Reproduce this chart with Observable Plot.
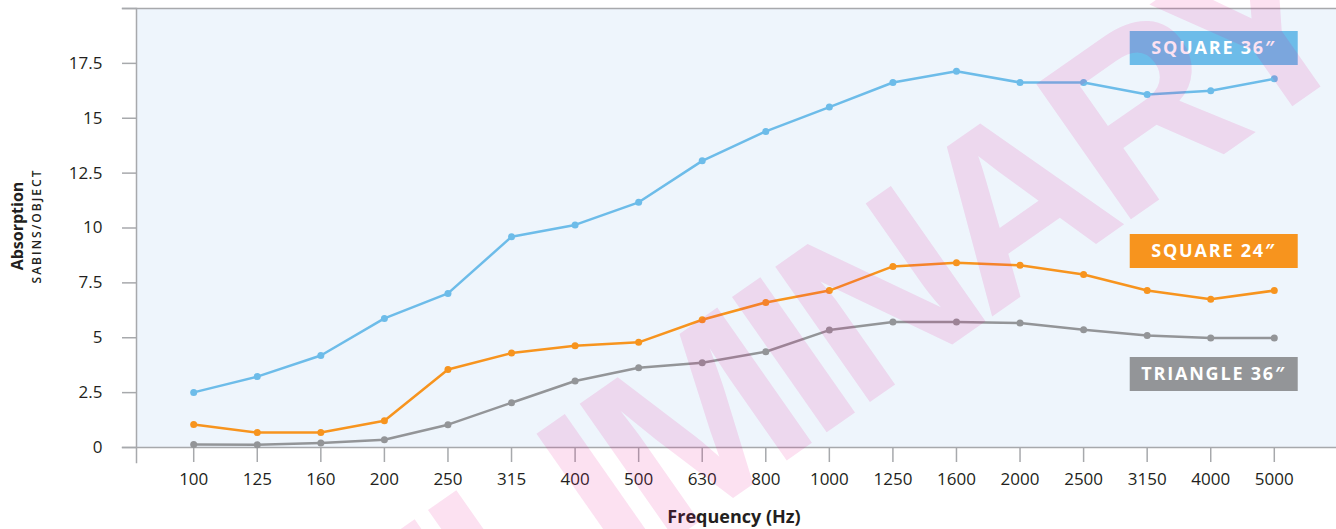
<!DOCTYPE html>
<html>
<head>
<meta charset="utf-8">
<script src="https://cdn.jsdelivr.net/npm/d3@7"></script>
<script src="https://cdn.jsdelivr.net/npm/@observablehq/plot@0.6"></script>
<style>
  body { margin: 0; background: #ffffff; }
  .legend-text text { letter-spacing: 1.8px; }
  .sub-label text { letter-spacing: 2px; }
  .watermark text { letter-spacing: -14px; }
</style>
</head>
<body>
<div id="chart"></div>
<script>
const frequencies = ["100","125","160","200","250","315","400","500","630","800","1000","1250","1600","2000","2500","3150","4000","5000"];
const square36   = [2.51,3.23,4.19,5.88,7.02,9.60,10.14,11.17,13.06,14.40,15.51,16.63,17.14,16.63,16.63,16.08,16.25,16.80];
const square24   = [1.05,0.68,0.68,1.22,3.55,4.30,4.64,4.79,5.82,6.61,7.15,8.25,8.42,8.30,7.88,7.15,6.75,7.15];
const triangle36 = [0.14,0.12,0.21,0.35,1.04,2.04,3.03,3.63,3.86,4.36,5.35,5.72,5.72,5.67,5.36,5.10,4.99,4.99];
const seriesNames  = ["SQUARE 36″","SQUARE 24″","TRIANGLE 36″"];
const seriesColors = ["#6dbce9","#f7941e","#939598"];
const labelFrequency = "4000";
const labelValues = [18.2, 8.95, 3.35];
const yTicks = [0, 2.5, 5, 7.5, 10, 12.5, 15, 17.5, 20];

const seriesValues = [square36, square24, triangle36];
const rows = seriesValues.flatMap((vals, i) =>
  vals.map((v, j) => ({freq: frequencies[j], value: v, series: seriesNames[i]})));
const labels = seriesNames.map((s, i) => ({freq: labelFrequency, value: labelValues[i], series: s}));

const axisGray = "#a7a9ac";
const rectSymbol = { draw(ctx) { ctx.rect(-84, -17, 168, 34); } };

const chart = Plot.plot({
  width: 1336,
  height: 529,
  marginTop: 8,
  marginLeft: 136,
  marginRight: 5,
  marginBottom: 82,
  style: { fontFamily: "'Open Sans', sans-serif", fontSize: "17px", color: "#231f20", background: "transparent" },
  x: { type: "point", domain: frequencies, padding: 0.9, round: false },
  y: { domain: [0, 20] },
  color: { domain: seriesNames, range: seriesColors },
  marks: [
    Plot.frame({ fill: "#eef5fc", stroke: null, insetRight: -5 }),
    Plot.axisY({ ticks: yTicks, tickSize: 14, tickPadding: 20, stroke: axisGray, strokeWidth: 1.5, fill: "#231f20",
                 tickFormat: d => d === 20 ? "" : String(d), label: null }),
    Plot.axisX({ tickSize: 15, tickPadding: 10, stroke: axisGray, strokeWidth: 1.5, fill: "#231f20", label: null }),
    Plot.frame({ anchor: "left", stroke: axisGray, strokeWidth: 1.5, insetBottom: -15 }),
    Plot.frame({ anchor: "top", stroke: axisGray, strokeWidth: 1.5, insetLeft: -14, insetRight: -5 }),
    Plot.frame({ anchor: "bottom", stroke: axisGray, strokeWidth: 1.5, insetLeft: -14, insetRight: -5 }),
    Plot.line(rows, { x: "freq", y: "value", z: "series", stroke: "series", strokeWidth: 2.5 }),
    Plot.dot(rows, { x: "freq", y: "value", fill: "series", r: 3.5 }),
    Plot.dot(labels, { x: "freq", y: "value", fill: "series", symbol: rectSymbol, r: 5, dx: 3 }),
    Plot.text(labels, { x: "freq", y: "value", text: "series", fill: "white", fontWeight: 700, fontSize: 18,
                        dx: 3, lineAnchor: "middle", className: "legend-text" }),
    Plot.text(["Absorption"], { frameAnchor: "left", dx: -119, dy: -2, rotate: -90, textAnchor: "middle", lineAnchor: "middle",
                                fontWeight: 700, fontSize: 16, fill: "#231f20" }),
    Plot.text(["SABINS/OBJECT"], { frameAnchor: "left", dx: -99, dy: -2, rotate: -90, textAnchor: "middle", lineAnchor: "middle",
                                   fontWeight: 600, fontSize: 12, fill: "#231f20", className: "sub-label" }),
    Plot.text(["Frequency (Hz)"], { frameAnchor: "bottom", dy: 70, textAnchor: "middle", lineAnchor: "middle",
                                    fontWeight: 700, fontSize: 18, fill: "#231f20" }),
    Plot.text(["PRELIMINARY"], { frameAnchor: "middle", dx: -28, dy: 195, rotate: -35, fontSize: 240, fontWeight: 700,
                                 textAnchor: "middle", lineAnchor: "middle", className: "watermark",
                                 fontFamily: "'Liberation Sans', sans-serif", fill: "#e6088c", fillOpacity: 0.12 })
  ]
});
document.getElementById("chart").append(chart);
</script>
</body>
</html>
